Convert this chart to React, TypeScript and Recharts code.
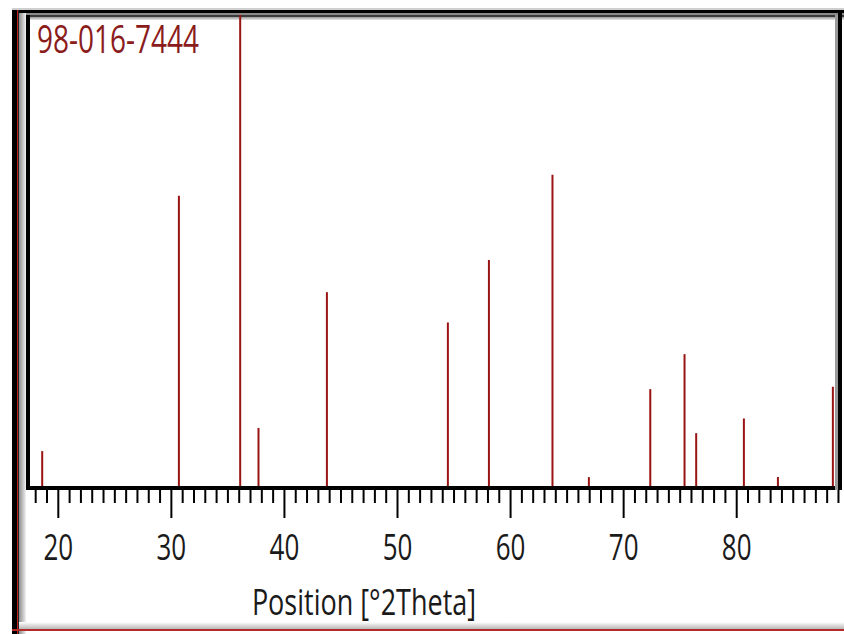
import React from 'react';
import { ComposedChart, Bar, XAxis, YAxis } from 'recharts';

// Reference pattern 98-016-7444: peak positions (°2θ) and relative intensities
const peakPositions = [18.56, 30.65, 36.07, 37.69, 43.74, 54.44, 58.07, 63.69, 66.91, 72.34, 75.37, 76.4, 80.62, 83.63, 88.49];
const peakIntensities = [7.8, 61.8, 100, 12.7, 41.4, 35.0, 48.2, 66.2, 2.3, 20.9, 28.3, 11.6, 14.7, 2.3, 21.4];
const labelledTicks = [20, 30, 40, 50, 60, 70, 80];
const xDomain: [number, number] = [17.32, 89.18];

const patternTitle = '98-016-7444';
const axisTitle = 'Position [°2Theta]';

const STICK = '#9a1414';
const FONT = '"Open Sans", "Noto Sans", sans-serif';

// one tick per degree across the visible range
const degreeTicks = Array.from(
  { length: Math.floor(xDomain[1]) - Math.ceil(xDomain[0]) + 1 },
  (_, i) => Math.ceil(xDomain[0]) + i
);

const data = peakPositions.map((pos, i) => ({ pos, intensity: peakIntensities[i] }));

const DegreeTick = (props: any) => {
  const { x, y, payload } = props;
  const major = labelledTicks.includes(payload.value);
  return (
    <g>
      <line x1={x} x2={x} y1={y + 2} y2={y + (major ? 30 : 15)} stroke="#000" strokeWidth={2} />
      {major && (
        <text
          transform={`translate(${x},${y + 72}) scale(1,1.42)`}
          textAnchor="middle"
          fontFamily={FONT}
          fontSize={26}
          fill="#1a1a1a"
        >
          {payload.value}
        </text>
      )}
    </g>
  );
};

const box = (style: React.CSSProperties) => (
  <div style={{ position: 'absolute', pointerEvents: 'none', ...style }} />
);

const App: React.FC = () => {
  return (
    <div style={{ position: 'absolute', left: 0, top: 0, width: 844, height: 634, background: '#fff', overflow: 'hidden' }}>
      {/* window frame */}
      {box({ left: 12, top: 8, width: 832, height: 2, background: '#cfcfcf' })}
      {box({ left: 12, top: 10, width: 832, height: 3, background: '#000' })}
      {box({ left: 12, top: 13, width: 832, height: 2, background: '#8a8a8a' })}
      {box({ left: 12, top: 15, width: 832, height: 2, background: '#3a3a3a' })}
      {box({ left: 12, top: 17, width: 832, height: 3, background: 'linear-gradient(#9a9a9a, #e6e6e6)' })}
      {box({ left: 12, top: 10, width: 5, height: 624, background: '#000' })}
      {box({ left: 17, top: 10, width: 1, height: 624, background: '#c02020' })}
      {box({ left: 18, top: 10, width: 1, height: 624, background: '#222' })}
      {box({ left: 19, top: 13, width: 7, height: 621, background: 'linear-gradient(90deg, #8c8c8c, #f2f2f2)' })}
      {box({ left: 19, top: 622, width: 825, height: 7, background: 'linear-gradient(#ffffff, #b8b8b8)' })}
      {box({ left: 12, top: 629, width: 832, height: 2, background: '#b22a2a' })}

      <ComposedChart
        width={844}
        height={634}
        data={data}
        margin={{ top: 15, right: 3.5, left: 28, bottom: 0 }}
        style={{ position: 'absolute', left: 0, top: 0 }}
      >
        <XAxis
          type="number"
          dataKey="pos"
          domain={xDomain}
          allowDataOverflow
          ticks={degreeTicks}
          interval={0}
          tickSize={0}
          tickMargin={0}
          tickLine={false}
          tick={<DegreeTick />}
          height={146}
          axisLine={{ stroke: '#000', strokeWidth: 4 }}
        />
        <YAxis hide domain={[0, 100]} allowDataOverflow />
        <Bar dataKey="intensity" fill={STICK} barSize={2} isAnimationActive={false} />
      </ComposedChart>

      {/* plot border */}
      {box({ left: 26, top: 15, width: 4, height: 475, background: '#000' })}
      {box({ left: 835, top: 15, width: 3, height: 475, background: '#9a9a9a' })}
      {box({ left: 838, top: 10, width: 4, height: 480, background: '#000' })}

      <svg width={844} height={634} style={{ position: 'absolute', left: 0, top: 0, pointerEvents: 'none' }}>
        <text
          transform="translate(37,53) scale(1,1.36)"
          fontFamily={FONT}
          fontSize={28}
          fill="#8b1c1c"
        >
          {patternTitle}
        </text>
        <text
          transform="translate(364,615) scale(1,1.35)"
          textAnchor="middle"
          fontFamily={FONT}
          fontSize={27}
          fill="#1a1a1a"
        >
          {axisTitle}
        </text>
      </svg>
    </div>
  );
};

export default App;
